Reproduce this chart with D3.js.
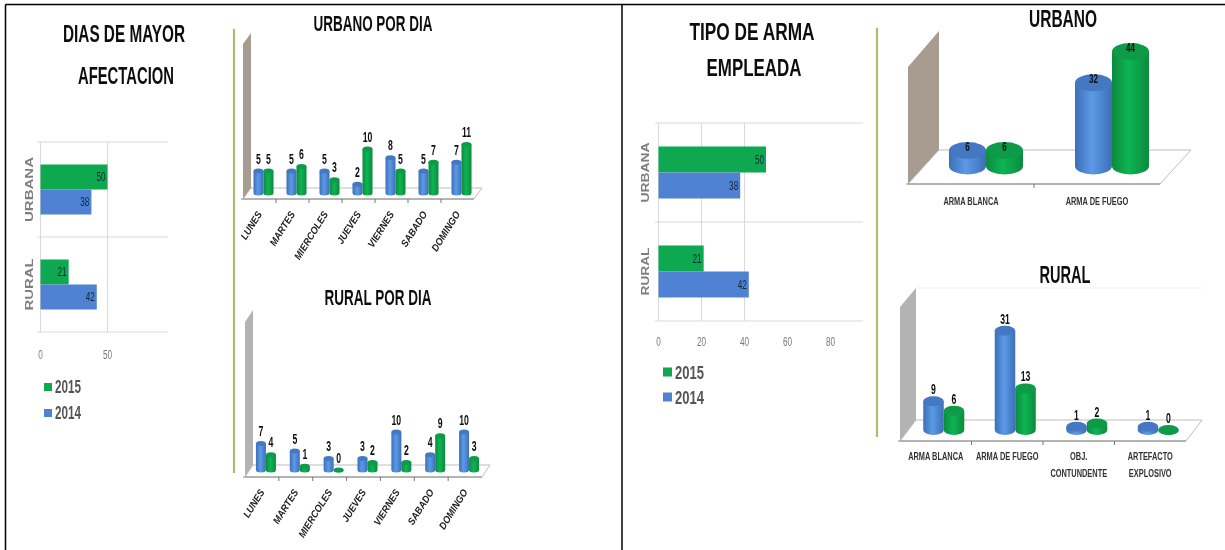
<!DOCTYPE html>
<html>
<head>
<meta charset="utf-8">
<script src="https://cdn.jsdelivr.net/npm/d3@7"></script>
<style>
html,body{margin:0;padding:0;background:#fff}
svg{display:block}
text{font-family:"Liberation Sans",Arial,sans-serif}
</style>
</head>
<body>
<svg id="c" width="1225" height="550"></svg>
<script>
// ---- data ----
const zones = ["URBANA", "RURAL"];
const years = ["2015", "2014"];
const dayTotals2015 = [50, 21];
const dayTotals2014 = [38, 42];
const armaTotals2015 = [50, 21];
const armaTotals2014 = [38, 42];
const dayTicks = [0, 50];
const armaTicks = [0, 20, 40, 60, 80];
const days = ["LUNES", "MARTES", "MIERCOLES", "JUEVES", "VIERNES", "SABADO", "DOMINGO"];
const urbanDay2014 = [5, 5, 5, 2, 8, 5, 7];
const urbanDay2015 = [5, 6, 3, 10, 5, 7, 11];
const ruralDay2014 = [7, 5, 3, 3, 10, 4, 10];
const ruralDay2015 = [4, 1, 0, 2, 2, 9, 3];
const armasUrbano = ["ARMA BLANCA", "ARMA DE FUEGO"];
const urbanoArma2014 = [6, 32];
const urbanoArma2015 = [6, 44];
const armasRural = ["ARMA BLANCA", "ARMA DE FUEGO", "OBJ.|CONTUNDENTE", "ARTEFACTO|EXPLOSIVO"];
const ruralArma2014 = [9, 31, 1, 1];
const ruralArma2015 = [6, 13, 2, 0];

const GREEN = "#0aa84f", BLUE = "#4f82d2";
const page = d3.select("#c");
const defs = page.append("defs");
defs.append("filter").attr("id", "soft").attr("filterUnits", "userSpaceOnUse")
  .attr("x", 0).attr("y", 0).attr("width", 1225).attr("height", 550)
  .append("feGaussianBlur").attr("stdDeviation", 0.4);
function grad(id, a, b) {
  const g = defs.append("linearGradient").attr("id", id);
  g.append("stop").attr("offset", "0%").attr("stop-color", a);
  g.append("stop").attr("offset", "45%").attr("stop-color", b);
  g.append("stop").attr("offset", "100%").attr("stop-color", a);
}
grad("gb", "#3c6fb8", "#5c9ae6");
grad("gg", "#078a3e", "#0fb552");

// condense real text to a share of its natural width
function fit(sel, f) {
  sel.each(function () {
    d3.select(this).attr("textLength", this.getComputedTextLength() * f).attr("lengthAdjust", "spacingAndGlyphs");
  });
}
function fitTo(sel, w) {
  sel.attr("textLength", w).attr("lengthAdjust", "spacingAndGlyphs");
}

// page frame
page.append("g").attr("stroke", "#000").attr("stroke-width", 1.5).selectAll("line")
  .data([[5.5, 4.5, 1225, 4.5], [5.5, 4.5, 5.5, 550], [622, 4.5, 622, 550]])
  .join("line").attr("x1", d => d[0]).attr("y1", d => d[1]).attr("x2", d => d[2]).attr("y2", d => d[3]);

const svg = page.append("g").attr("filter", "url(#soft)");

// separators
svg.append("g").attr("stroke", "#a9c06a").attr("stroke-width", 2.2).selectAll("line")
  .data([[234, 29, 473], [877, 28, 437]])
  .join("line").attr("x1", d => d[0]).attr("x2", d => d[0]).attr("y1", d => d[1]).attr("y2", d => d[2]);

function title(txt, cx, y, w, size) {
  svg.append("text").attr("x", cx).attr("y", y).attr("text-anchor", "middle")
    .attr("dominant-baseline", "central").attr("font-size", size).attr("font-weight", "bold").attr("fill", "#111")
    .attr("textLength", w).attr("lengthAdjust", "spacingAndGlyphs").text(txt);
}
title("DIAS DE MAYOR", 124, 33, 122, 24);
title("AFECTACION", 126, 75, 96, 24);
title("TIPO DE ARMA", 752, 31, 125, 24);
title("EMPLEADA", 754, 67, 95, 24);
title("URBANO POR DIA", 373, 23, 119, 22);
title("RURAL POR DIA", 378, 297, 107, 22);
title("URBANO", 1063, 19, 68, 23);
title("RURAL", 1065, 275, 51, 23);

function hbar(o) {
  const g = svg.append("g");
  const x = d3.scaleLinear().domain([0, o.ticks[1]]).range([o.x0, o.xTick1]);
  const yBand = d3.scaleBand().domain(zones).range([o.top, o.bottom]);
  // grid
  g.append("g").attr("stroke", "#d9d9d9").selectAll("line").data(d3.range(zones.length + 1))
    .join("line").attr("x1", o.gridL).attr("x2", o.gridR)
    .attr("y1", i => o.top + i * yBand.bandwidth()).attr("y2", i => o.top + i * yBand.bandwidth());
  g.append("g").attr("stroke", "#d9d9d9").selectAll("line").data(o.gridTicks)
    .join("line").attr("x1", x).attr("x2", x).attr("y1", o.top).attr("y2", o.bottom);
  // bars
  const bar = o.barH;
  [[o.v15, GREEN, -1], [o.v14, BLUE, 0]].forEach(([vals, col, k]) => {
    const sel = g.append("g").selectAll("g").data(vals).join("g");
    sel.append("rect").attr("fill", col).attr("x", x(0)).attr("width", d => x(d) - x(0))
      .attr("y", (d, i) => yBand(zones[i]) + yBand.bandwidth() / 2 + k * bar).attr("height", bar);
    const t = sel.append("text").attr("x", d => x(d) - 2)
      .attr("y", (d, i) => yBand(zones[i]) + yBand.bandwidth() / 2 + k * bar + bar / 2)
      .attr("text-anchor", "end").attr("dominant-baseline", "central")
      .attr("font-size", 12).attr("fill", "#12283a").text(d => d);
    fit(t, 0.68);
  });
  // zone labels
  const zl = g.append("g").selectAll("text").data(zones).join("text")
    .attr("transform", z => `translate(${o.zoneX},${yBand(z) + yBand.bandwidth() / 2}) rotate(-90)`)
    .attr("text-anchor", "middle").attr("dominant-baseline", "central")
    .attr("font-weight", "bold").attr("font-size", 11).attr("fill", "#7f7f7f").text(z => z);
  zl.attr("textLength", (z, i) => o.zoneLen[i]).attr("lengthAdjust", "spacingAndGlyphs");
  // ticks
  const tk = g.append("g").selectAll("text").data(o.ticks).join("text")
    .attr("x", x).attr("y", o.tickY).attr("text-anchor", "middle").attr("dominant-baseline", "central")
    .attr("font-size", 12).attr("fill", "#777").text(d => d);
  fit(tk, 0.68);
  // legend
  const leg = g.append("g").selectAll("g").data(years).join("g")
    .attr("transform", (d, i) => `translate(${o.legX},${o.legY + i * o.legStep})`);
  leg.append("rect").attr("x", 0).attr("y", -o.legBox / 2).attr("width", o.legBox).attr("height", o.legBox)
    .attr("fill", (d, i) => i ? BLUE : GREEN);
  const lt = leg.append("text").attr("x", o.legBox + 3).attr("dominant-baseline", "central")
    .attr("font-size", o.legSize).attr("font-weight", "bold").attr("fill", "#555").text(d => d);
  fitTo(lt, o.legLen);
}
hbar({v15: dayTotals2015, v14: dayTotals2014, ticks: dayTicks, gridTicks: dayTicks, x0: 40.5, xTick1: 107.5,
  top: 142, bottom: 332, gridL: 37, gridR: 168, barH: 25, zoneX: 29, zoneLen: [65, 52], tickY: 355,
  legX: 44, legY: 387, legStep: 26, legBox: 8, legSize: 18, legLen: 26});
hbar({v15: armaTotals2015, v14: armaTotals2014, ticks: armaTicks, gridTicks: [0, 20, 40], x0: 658.5, xTick1: 701.5,
  top: 123, bottom: 321, gridL: 655, gridR: 863, barH: 26, zoneX: 645, zoneLen: [60, 48], tickY: 342,
  legX: 663, legY: 372, legStep: 25, legBox: 9, legSize: 19, legLen: 29});

function cylChart(o) {
  const g = svg.append("g");
  const x = d3.scaleBand().domain(o.cats).range([o.fl, o.fr]);
  const y = d3.scaleLinear().domain([0, 1]).range([o.base, o.base - o.perUnit]);
  const depth = o.bl - o.fl;
  if (o.backLine) {
    g.append("line").attr("x1", o.bl).attr("x2", o.fr + depth).attr("y1", o.wallBackTop).attr("y2", o.wallBackTop)
      .attr("stroke", "#efefef");
  }
  // wall
  g.append("path").attr("fill", o.wall)
    .attr("d", d3.line()([[o.fl, o.wallFrontTop], [o.bl, o.wallBackTop], [o.bl, o.by], [o.fl, o.fy]]) + "Z");
  // floor
  g.append("path").attr("fill", "#fff").attr("stroke", "#bdbdbd").attr("stroke-width", 1)
    .attr("d", d3.line()([[o.fl, o.fy], [o.bl, o.by], [o.fr + depth, o.by], [o.fr, o.fy]]) + "Z");
  g.append("line").attr("x1", o.fl - 2).attr("x2", o.fr).attr("y1", o.fy).attr("y2", o.fy)
    .attr("stroke", "#8a8a8a").attr("stroke-width", 1.2);
  // tick marks
  g.append("g").attr("stroke", "#777").selectAll("line").data(o.cats.slice(1))
    .join("line").attr("x1", c => x(c)).attr("x2", c => x(c)).attr("y1", o.fy).attr("y2", o.fy + 4);
  // cylinders
  const rx = o.w / 2, ry = o.ry;
  [[o.v14, "gb", "#4478c2", -1], [o.v15, "gg", "#0a9a48", 1]].forEach(([vals, gr, top, side]) => {
    const s = g.append("g").selectAll("g").data(vals).join("g")
      .attr("transform", (d, i) => `translate(${x(o.cats[i]) + x.bandwidth() / 2 + o.shift + side * rx},0)`);
    s.append("path").attr("fill", `url(#${gr})`)
      .attr("d", d => `M${-rx},${y(d)}L${-rx},${o.base}A${rx},${ry} 0 0 0 ${rx},${o.base}L${rx},${y(d)}Z`);
    s.append("ellipse").attr("cy", d => y(d)).attr("rx", rx).attr("ry", ry).attr("fill", top);
    const t = s.append("text").attr("y", d => y(d) - ry - o.labelGap).attr("text-anchor", "middle")
      .attr("font-size", o.labelSize).attr("font-weight", "bold").attr("fill", "#111").text(d => d);
    fit(t, 0.62);
  });
  // category labels
  if (o.rotate) {
    const t = g.append("g").selectAll("text").data(o.cats).join("text")
      .attr("transform", c => `translate(${x(c) + x.bandwidth() / 2 + 3},${o.fy + 15}) rotate(-58)`)
      .attr("text-anchor", "end").attr("font-size", 10).attr("font-weight", "bold")
      .attr("font-style", "italic").attr("fill", "#222").text(c => c);
    fit(t, 0.92);
  } else {
    const t = g.append("g").selectAll("text").data(o.cats).join("text")
      .attr("x", c => x(c) + x.bandwidth() / 2).attr("y", o.catY).attr("text-anchor", "middle")
      .attr("font-size", 10).attr("font-weight", "bold").attr("fill", "#333");
    const ts = t.selectAll("tspan").data(c => c.split("|").map(s => [c, s])).join("tspan")
      .attr("x", d => x(d[0]) + x.bandwidth() / 2)
      .attr("dy", (d, i) => i ? 17 : 0).text(d => d[1]);
    fit(ts, 0.74);
  }
}
cylChart({cats: days, v14: urbanDay2014, v15: urbanDay2015, fl: 243, fr: 474, bl: 251, fy: 199, by: 188,
  wallFrontTop: 44, wallBackTop: 33, wall: "#a89c90", base: 193, perUnit: 4.4, w: 10, ry: 2.5, shift: 4,
  labelGap: 5, labelSize: 14, rotate: true});
cylChart({cats: days, v14: ruralDay2014, v15: ruralDay2015, fl: 245, fr: 482, bl: 253, fy: 477, by: 465,
  wallFrontTop: 322, wallBackTop: 310, wall: "#b3b3b3", base: 470, perUnit: 3.8, w: 10, ry: 2.5, shift: 4,
  labelGap: 5, labelSize: 14, rotate: true});
cylChart({cats: armasUrbano, v14: urbanoArma2014, v15: urbanoArma2015, fl: 908, fr: 1160, bl: 939, fy: 184, by: 150,
  wallFrontTop: 67, wallBackTop: 31, wall: "#a89c90", base: 166, perUnit: 2.6, w: 37, ry: 8.5, shift: 15,
  labelGap: -9, labelSize: 13, catY: 205});
cylChart({cats: armasRural, v14: ruralArma2014, v15: ruralArma2015, fl: 900, fr: 1186, bl: 916, fy: 441, by: 420,
  wallFrontTop: 307, wallBackTop: 288, wall: "#b3b3b3", base: 430, perUnit: 3.2, w: 20.5, ry: 5, shift: 8,
  labelGap: 2, labelSize: 14, catY: 460, backLine: true});
</script>
</body>
</html>
